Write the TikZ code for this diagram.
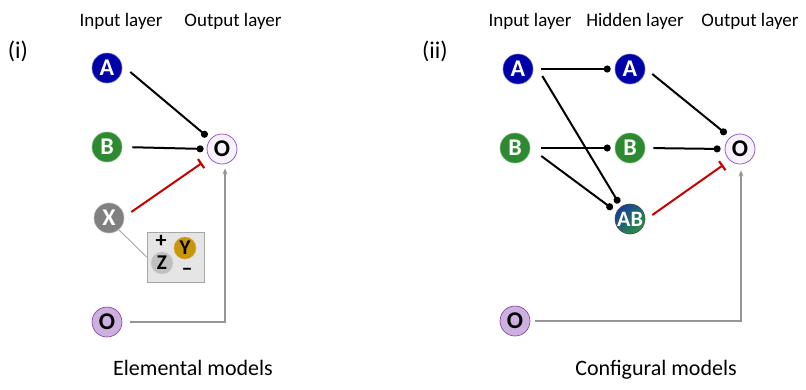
\documentclass[tikz,border=0pt]{standalone}
\usepackage{fontspec}
\setmainfont{Carlito}
\usepackage{tikz}
\usetikzlibrary{arrows.meta}
\definecolor{cueblue}{RGB}{0,0,168}
\definecolor{cuegreen}{RGB}{46,138,48}
\definecolor{cuegray}{RGB}{128,128,128}
\definecolor{abblue}{RGB}{22,62,156}
\definecolor{abgreen}{RGB}{44,146,62}
\definecolor{ctxfill}{RGB}{206,176,224}
\definecolor{ctxedge}{RGB}{120,60,160}
\definecolor{outfill}{RGB}{246,241,251}
\definecolor{outedge}{RGB}{150,92,204}
\definecolor{inhred}{RGB}{200,0,0}
\definecolor{feedgray}{RGB}{150,150,150}
\definecolor{yfill}{RGB}{200,150,10}
\definecolor{zfill}{RGB}{192,192,192}
\tikzset{
  unit/.style={circle, minimum size=30pt, inner sep=0pt, line width=0.6pt,
    font=\fontsize{24}{24}\selectfont\bfseries},
  unitA/.style={unit, fill=cueblue, draw=cueblue!60!white, text=white},
  unitB/.style={unit, fill=cuegreen, draw=cuegreen!60!white, text=white},
  unitX/.style={unit, fill=cuegray, draw=cuegray!60!white, text=white},
  unitAB/.style={unit, left color=abblue, right color=abgreen, shading angle=45, draw=black!70, text=white,
    font=\fontsize{22}{22}\selectfont\bfseries},
  ctx/.style={unit, fill=ctxfill, draw=ctxedge, text=black},
  outunit/.style={unit, fill=outfill, draw=outedge, line width=0.8pt, text=black},
  small/.style={circle, minimum size=22pt, inner sep=0pt, text=black,
    font=\fontsize{21}{21}\selectfont\bfseries},
  sign/.style={inner sep=0pt, font=\fontsize{22}{22}\selectfont\bfseries},
  inset/.style={draw=black!35, fill=black!10, line width=0.8pt, minimum width=57pt, minimum height=50pt},
  layer/.style={font=\fontsize{19}{19}\selectfont, anchor=base},
  caption/.style={font=\fontsize{22}{22}\selectfont, anchor=base},
  tag/.style={font=\fontsize{24}{24}\selectfont},
  excite/.style={line width=2pt, -{Circle[length=7pt]}},
  inhibit/.style={line width=2pt, draw=inhred, -{Bar[width=11pt, line width=2.2pt]}},
  feed/.style={line width=1.1pt, draw=feedgray, -{Stealth[length=6pt, width=5pt]}},
  wire/.style={line width=0.7pt, draw=feedgray}
}

\begin{document}
\begin{tikzpicture}[x=1pt, y=-1pt]
  \useasboundingbox (0,0) rectangle (806,389);

  % (i) elemental models
  \node[tag] (tagi) at (18,51) {(i)};
  \node[layer] (inlabL) at (121,26) {Input layer};
  \node[layer] (outlabL) at (233,26) {Output layer};
  \node[unitA] (inA) at (107,68) {A};
  \node[unitB] (inB) at (107,147) {B};
  \node[unitX] (inX) at (109,218) {X};
  \node[ctx] (ctxL) at (107,322) {O};
  \node[outunit] (outL) at (222,149) {O};
  % configuration box of X
  \node[inset] (cfg) at (175.5,257) {};
  \node[small, fill=zfill, draw=black!20] (Z) at (162,263) {Z};
  \node[small, fill=yfill, draw=yfill!80!white] (Y) at (185,248) {Y};
  \node[sign] (plus) at (161,241) {+};
  \node[sign] (minus) at (187,272) {\textendash};
  % connections
  \draw[excite, shorten >=4pt] ([xshift=8pt,yshift=-4pt]inA.east) -- (outL.140);
  \draw[excite, shorten <=10pt, shorten >=3pt] (inB.east) -- (outL.west);
  \draw[inhibit, shorten >=9pt] ([xshift=7pt,yshift=6pt]inX.east) -- (outL.215);
  \draw[wire] (inX.-50) -- (cfg.west);
  \draw[feed] ([xshift=8pt]ctxL.east) -| ([xshift=3pt,yshift=-4pt]outL.south);
  \node[caption] (capL) at (193,375) {Elemental models};

  % (ii) configural models
  \node[tag] (tagii) at (435,51) {(ii)};
  \node[layer] (inlabR) at (530,26) {Input layer};
  \node[layer] (hidlabR) at (635,26) {Hidden layer};
  \node[layer] (outlabR) at (750,26) {Output layer};
  \node[unitA] (inA2) at (518,69) {A};
  \node[unitB] (inB2) at (515,148) {B};
  \node[ctx] (ctxR) at (515,321) {O};
  \node[unitA] (hidA) at (630,69) {A};
  \node[unitB] (hidB) at (630,148) {B};
  \node[unitAB] (hidAB) at (630,219) {AB};
  \node[outunit] (outR) at (740,149) {O};
  % connections
  \draw[excite, shorten <=8pt, shorten >=4pt] (inA2.east) -- (hidA.west);
  \draw[excite, shorten >=4pt] ([xshift=9pt,yshift=-7pt]inA2.east) -- (hidAB.126);
  \draw[excite, shorten <=11pt, shorten >=4pt] (inB2.east) -- (hidB.west);
  \draw[excite, shorten >=5pt] ([xshift=11pt,yshift=-8pt]inB2.east) -- (hidAB.152);
  \draw[excite, shorten >=5pt] ([xshift=7pt,yshift=-5pt]hidA.east) -- (outR.130);
  \draw[excite, shorten <=8pt, shorten >=4pt] (hidB.east) -- (outR.west);
  \draw[inhibit, shorten >=8pt] ([xshift=7pt,yshift=4pt]hidAB.east) -- (outR.228);
  \draw[feed] ([xshift=5pt]ctxR.east) -| ([xshift=1pt,yshift=-6pt]outR.south);
  \node[caption] (capR) at (656,375) {Configural models};
\end{tikzpicture}
\end{document}
